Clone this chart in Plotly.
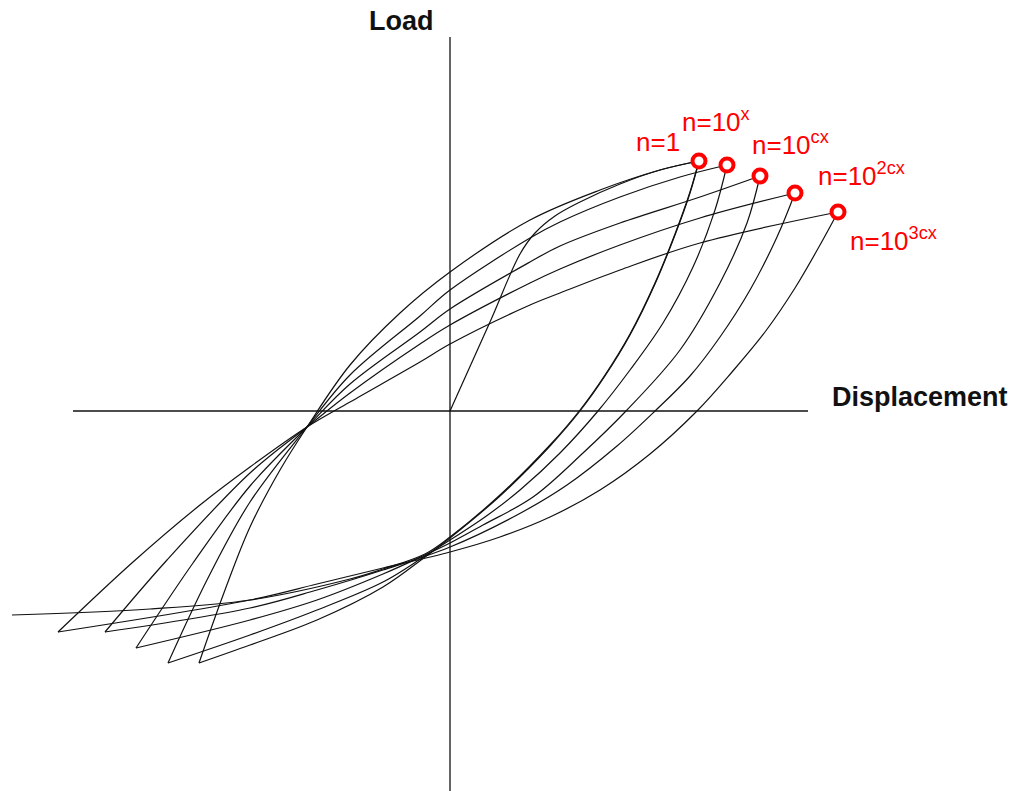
import plotly.graph_objects as go

# Cyclic load-displacement loops (arbitrary units, origin at the axes crossing)

cycle_labels = ["n=1", "n=10<sup>x</sup>", "n=10<sup>cx</sup>",
                "n=10<sup>2cx</sup>", "n=10<sup>3cx</sup>"]

# positive peak of each loop
peak_disp = [249, 277, 310, 345, 388]
peak_load = [250, 246, 235, 218, 199]

# first loading from the origin to the n=1 peak
initial_disp = [0, 40, 70, 85, 105, 130, 170, 210, 249]
initial_load = [0, 89, 157, 178, 195, 209, 227, 241, 250]

# reloading branches (negative tip -> positive peak)
up_n1_disp = [-251, -225, -200, -170, -143, -100, -50, 0, 80, 150, 210, 249]
up_n1_load = [-252, -179, -116, -59, -16, 46, 98, 139, 191, 221, 241, 250]

up_nx_disp = [-282, -242, -200, -143, -100, -30, 0, 80, 110, 170, 230, 277]
up_nx_load = [-252, -167, -91, -16, 36, 95, 121, 173, 189, 214, 234, 246]

up_ncx_disp = [-314, -257, -200, -143, -100, -30, 0, 80, 110, 170, 250, 310]
up_ncx_load = [-237, -152, -75, -16, 27, 79, 102, 149, 165, 188, 214, 235]

up_n2cx_disp = [-345, -283, -200, -143, -100, -30, 0, 80, 110, 170, 250, 345]
up_n2cx_load = [-221, -149, -62, -16, 18, 67, 86, 128, 142, 166, 193, 218]

up_n3cx_disp = [-392, -317, -250, -200, -143, -100, -30, 0, 80, 110, 170, 250, 388]
up_n3cx_load = [-221, -151, -94, -56, -16, 9, 49, 67, 106, 118, 141, 168, 199]

# unloading branches (positive peak -> negative tip)
down_first_disp = [249, 240, 225, 205, 180, 155, 130, 100, 50, 0, -25, -67, -100, -200, -300, -438]
down_first_load = [250, 219, 177, 128, 77, 36, 1, -34, -84, -126, -143, -158, -168, -189, -198, -204]

down_n1_disp = [249, 240, 225, 205, 180, 155, 130, 100, 50, 0, -25, -67, -133, -200, -251]
down_n1_load = [250, 218, 176, 127, 76, 35, 0, -35, -85, -127, -146, -176, -209, -234, -252]

down_nx_disp = [277, 265, 243, 213, 180, 148, 110, 70, 35, 0, -25, -67, -133, -200, -282]
down_nx_load = [246, 201, 144, 88, 41, 0, -42, -79, -106, -129, -145, -171, -199, -224, -252]

down_ncx_disp = [310, 297, 270, 230, 176, 133, 83, 33, 0, -25, -67, -133, -200, -314]
down_ncx_load = [235, 188, 128, 61, 0, -42, -86, -114, -132, -144, -163, -189, -209, -237]

down_n2cx_disp = [345, 327, 300, 270, 240, 205, 167, 117, 67, 0, -67, -133, -200, -345]
down_n2cx_load = [218, 174, 121, 74, 35, 0, -35, -74, -104, -136, -159, -179, -197, -221]

down_n3cx_disp = [388, 370, 345, 315, 282, 247, 200, 150, 100, 50, 0, -67, -133, -200, -392]
down_n3cx_load = [199, 166, 123, 79, 39, 0, -43, -79, -106, -126, -141, -157, -173, -189, -221]

branches = [
    (initial_disp, initial_load),
    (up_n1_disp, up_n1_load), (up_nx_disp, up_nx_load), (up_ncx_disp, up_ncx_load),
    (up_n2cx_disp, up_n2cx_load), (up_n3cx_disp, up_n3cx_load),
    (down_first_disp, down_first_load),
    (down_n1_disp, down_n1_load), (down_nx_disp, down_nx_load), (down_ncx_disp, down_ncx_load),
    (down_n2cx_disp, down_n2cx_load), (down_n3cx_disp, down_n3cx_load),
]

FONT = "Liberation Sans, Arial, Helvetica, sans-serif"

fig = go.Figure()

for bx, by in branches:
    fig.add_trace(go.Scatter(
        x=bx, y=by, mode="lines",
        line=dict(color="#111111", width=1.2, shape="spline", smoothing=1.0),
        hoverinfo="skip", showlegend=False,
    ))

fig.add_trace(go.Scatter(
    x=peak_disp, y=peak_load, mode="markers",
    marker=dict(symbol="circle", size=13, color="white",
                line=dict(color="#ff0000", width=4)),
    hoverinfo="skip", showlegend=False,
))

# load / displacement axes drawn through the origin
fig.add_shape(type="line", x0=-377, x1=358, y0=0, y1=0,
              line=dict(color="#111111", width=1.3), layer="below")
fig.add_shape(type="line", x0=0, x1=0, y0=-400, y1=374,
              line=dict(color="#111111", width=1.3), layer="below")

fig.add_annotation(x=-49, y=390, text="<b>Load</b>", showarrow=False,
                   font=dict(family=FONT, size=27, color="#111111"),
                   xanchor="center", yanchor="middle")
fig.add_annotation(x=380, y=14, text="<b>Displacement</b>", showarrow=False,
                   font=dict(family=FONT, size=27, color="#111111"),
                   xanchor="left", yanchor="middle")

# cycle-count labels, offset from each peak marker (px)
label_shift = [(-65, 19), (-47, 45), (-10, 33), (21, 19), (10, -27)]
for lbl, px, py, (dx, dy) in zip(cycle_labels, peak_disp, peak_load, label_shift):
    fig.add_annotation(x=px, y=py, text=lbl, showarrow=False,
                       font=dict(family=FONT, size=26, color="#ff0000"),
                       xanchor="left", yanchor="middle", xshift=dx, yshift=dy)

fig.update_layout(
    width=1021, height=791,
    margin=dict(l=0, r=0, t=0, b=0),
    paper_bgcolor="white", plot_bgcolor="white",
    xaxis=dict(range=[-450, 571], visible=False, fixedrange=True),
    yaxis=dict(range=[-380, 411], visible=False, fixedrange=True),
)

fig.write_html("out.html")
